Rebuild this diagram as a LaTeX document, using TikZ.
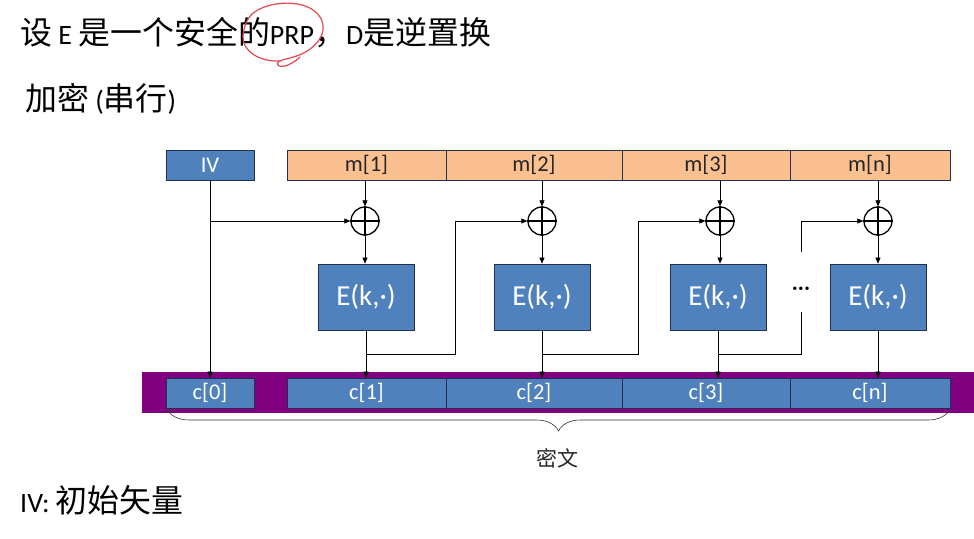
\documentclass[tikz,border=0pt]{standalone}
\usepackage{fontspec}
\setmainfont{Carlito}
\newfontfamily\cjk[Scale=1.14]{Noto Sans CJK SC}
\newfontfamily\cjkb{Noto Sans CJK SC}
\usetikzlibrary{arrows.meta,decorations.pathreplacing}
\definecolor{eblue}{HTML}{4F81BD}
\definecolor{bord}{HTML}{1F3050}
\definecolor{morange}{HTML}{FAC08F}
\definecolor{mtext}{HTML}{262626}
\definecolor{purp}{HTML}{800080}
\definecolor{ink}{HTML}{E5484F}
\begin{document}
\begin{tikzpicture}[x=1pt,y=-1pt,
  blk/.style={draw=bord,line width=0.8pt,fill=eblue,text=white,inner sep=0pt,minimum height=30pt,font=\fontsize{22.5}{24}\selectfont},
  mblk/.style={blk,fill=morange,text=mtext},
  ebox/.style={blk,minimum width=96pt,minimum height=66pt,font=\fontsize{29}{31}\selectfont},
  xo/.style={circle,draw,line width=1.3pt,minimum size=28pt,inner sep=0pt},
  arr/.style={-{Triangle[length=6pt,width=5pt]},line width=0.6pt},
  ln/.style={line width=0.6pt},
  txt/.style={inner sep=0pt,anchor=base west,text=black}]
\useasboundingbox (0,0) rectangle (974,538);
\fill[white] (0,0) rectangle (974,538);
% texts
\node[txt,font=\fontsize{28}{30}\selectfont] (title) at (20,44) {{\cjk 设} E {\cjk 是一个安全的}PRP{\cjk ，}D{\cjk 是逆置换}};
\node[txt,font=\fontsize{28}{30}\selectfont] (sub) at (25,110) {{\cjk 加密} ({\cjk 串行})};
\node[txt,font=\fontsize{28}{30}\selectfont] (ivt) at (20,512) {IV: {\cjk 初始矢量}};
% red hand annotation
\draw[ink,line width=1.2pt,line cap=round] (252,14) .. controls (268,0) and (308,-2) .. (320,17) .. controls (330,33) and (315,52) .. (290,58) .. controls (280,60) and (274,63) .. (279,66) .. controls (285,68) and (295,62) .. (300,57);
\draw[ink,line width=1.2pt,line cap=round] (280,61) .. controls (258,62) and (242,50) .. (243,36) .. controls (244,26) and (247,19) .. (252,14);
% top row
\node[blk,minimum width=88pt] (IV) at (210,165) {IV};
\node[mblk,minimum width=159pt] (m1) at (366.5,165) {m[1]};
\node[mblk,minimum width=176pt] (m2) at (534,165) {m[2]};
\node[mblk,minimum width=168pt] (m3) at (706,165) {m[3]};
\node[mblk,minimum width=160pt] (mn) at (870,165) {m[n]};
% xor
\foreach \n/\x in {x1/365,x2/542,x3/720,x4/878}{
  \node[xo] (\n) at (\x,221) {};
  \draw[line width=1.3pt] (\n.north) -- (\n.south) (\n.west) -- (\n.east);
}
% E boxes
\node[ebox] (E1) at (366,297) {E(k,·)};
\node[ebox] (E2) at (542,297) {E(k,·)};
\node[ebox] (E3) at (718,297) {E(k,·)};
\node[ebox] (E4) at (878,297) {E(k,·)};
% bottom bar
\node[fill=purp,inner sep=0pt,minimum width=832pt,minimum height=41pt] (bar) at (558,392.5) {};
\node[blk,minimum width=88pt] (c0) at (210,393) {c[0]};
\node[blk,minimum width=159pt] (c1) at (366.5,393) {c[1]};
\node[blk,minimum width=176pt] (c2) at (534,393) {c[2]};
\node[blk,minimum width=168pt] (c3) at (706,393) {c[3]};
\node[blk,minimum width=160pt] (cn) at (870,393) {c[n]};
% IV lines
\draw[arr] (IV.south) -- (IV.south |- c0.north);
\draw[arr] (IV.south |- x1.west) -- (x1.west);
% m -> xor -> E -> c
\draw[arr] (m1.south -| x1) -- (x1.north);
\draw[arr] (m2.south -| x2) -- (x2.north);
\draw[arr] (m3.south -| x3) -- (x3.north);
\draw[arr] (mn.south -| x4) -- (x4.north);
\draw[arr] (x1.south) -- (x1.south |- E1.north);
\draw[arr] (x2.south) -- (x2.south |- E2.north);
\draw[arr] (x3.south) -- (x3.south |- E3.north);
\draw[arr] (x4.south) -- (x4.south |- E4.north);
\draw[arr] (E1.south) -- (E1.south |- c1.north);
\draw[arr] (E2.south) -- (E2.south |- c2.north);
\draw[arr] (E3.south) -- (E3.south |- c3.north);
\draw[arr] (E4.south) -- (E4.south |- cn.north);
% feedback
\coordinate (t1) at (455,354);
\coordinate (t2) at (638,354);
\coordinate (t3) at (801,354);
\coordinate (g1) at (801,312);
\coordinate (g2) at (801,252);
\draw[arr] (E1.south |- t1) -- (t1) |- (x2.west);
\draw[arr] (E2.south |- t2) -- (t2) |- (x3.west);
\draw[ln] (E3.south |- t3) -- (t3) -- (g1);
\draw[arr] (g2) |- (x4.west);
\node[font=\fontsize{24}{26}\selectfont,text=black] (dots) at (801,291) {···};
% brace
\coordinate (b1) at (167,409);
\coordinate (b2) at (950,409);
\draw[decorate,decoration={brace,amplitude=22pt,mirror},line width=0.6pt,draw=black!80] (b1) -- (b2);
\node[font=\cjkb\fontsize{21}{24}\selectfont,text=black!85] (mw) at (557,458) {密文};
\end{tikzpicture}
\end{document}
